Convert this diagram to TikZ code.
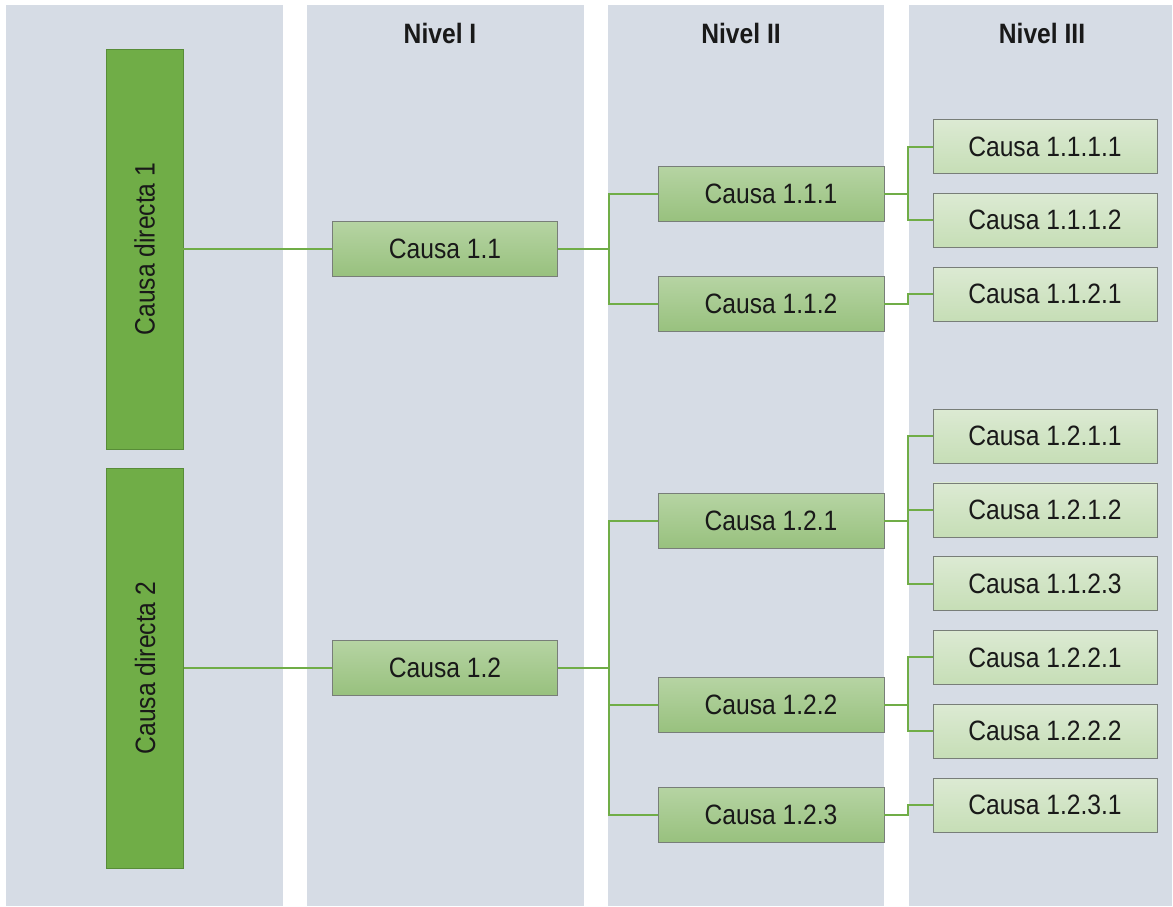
\documentclass[tikz,border=0pt]{standalone}
\usepackage{fontspec}
\setmainfont{Liberation Sans}[FakeStretch=0.88]
\usetikzlibrary{positioning}
\definecolor{panelgray}{RGB}{214,220,229}
\definecolor{directgreen}{RGB}{112,173,71}
\definecolor{directedge}{RGB}{88,140,56}
\definecolor{midtop}{RGB}{182,212,163}
\definecolor{midbot}{RGB}{152,193,126}
\definecolor{lighttop}{RGB}{220,234,211}
\definecolor{lightbot}{RGB}{198,222,182}
\definecolor{boxgray}{RGB}{120,126,120}
\definecolor{linkgreen}{RGB}{112,173,71}
\definecolor{inkgray}{RGB}{25,25,25}

\begin{document}
\begin{tikzpicture}[x=1pt, y=-1pt,
    direct/.style={rectangle, draw=directedge, fill=directgreen, rotate=90, minimum width=400pt, minimum height=77pt, text=inkgray, font=\fontsize{28}{32}\selectfont},
    cause/.style={rectangle, draw=boxgray, top color=midtop, bottom color=midbot, minimum width=225pt, minimum height=55pt, text=inkgray, font=\fontsize{28}{32}\selectfont},
    subcause/.style={rectangle, draw=boxgray, top color=lighttop, bottom color=lightbot, minimum width=224pt, minimum height=54pt, text=inkgray, font=\fontsize{28}{32}\selectfont},
    level/.style={text=inkgray, font=\fontsize{28}{32}\selectfont\bfseries},
    link/.style={draw=linkgreen, line width=2pt}
]
\useasboundingbox (0,0) rectangle (1173,907);

% Columns
\fill[panelgray] (6,5) rectangle (283,906);
\fill[panelgray] (307,5) rectangle (584,906);
\fill[panelgray] (608,5) rectangle (884,906);
\fill[panelgray] (909,5) rectangle (1172,906);

\node[level] (lvl1) at (440,33) {Nivel I};
\node[level] (lvl2) at (741,33) {Nivel II};
\node[level] (lvl3) at (1042,33) {Nivel III};

% Direct causes
\node[direct] (dc1) at (144.5,249) {Causa directa 1};
\node[direct] (dc2) at (145,668) {Causa directa 2};

% Level I
\node[cause] (c1) at (445,248.5) {Causa 1.1};
\node[cause] (c2) at (445,667.5) {Causa 1.2};

% Level II
\node[cause, minimum width=226pt] (c11) at (771,193.5) {Causa 1.1.1};
\node[cause, minimum width=226pt] (c12) at (771,304) {Causa 1.1.2};
\node[cause, minimum width=226pt] (c21) at (771,520.5) {Causa 1.2.1};
\node[cause, minimum width=226pt] (c22) at (771,705) {Causa 1.2.2};
\node[cause, minimum width=226pt] (c23) at (771,814.5) {Causa 1.2.3};

% Level III
\node[subcause] (c111) at (1045,146.5) {Causa 1.1.1.1};
\node[subcause, below=19.4pt of c111] (c112) {Causa 1.1.1.2};
\node[subcause, below=19.4pt of c112] (c121) {Causa 1.1.2.1};
\node[subcause] (c211) at (1045,436) {Causa 1.2.1.1};
\node[subcause, below=19.4pt of c211] (c212) {Causa 1.2.1.2};
\node[subcause, below=19.4pt of c212] (c213) {Causa 1.1.2.3};
\node[subcause, below=19.4pt of c213] (c221) {Causa 1.2.2.1};
\node[subcause, below=19.4pt of c221] (c222) {Causa 1.2.2.2};
\node[subcause, below=19.4pt of c222] (c231) {Causa 1.2.3.1};

% Connections
\draw[link] (c1.west) -- (c1.west -| dc1.south);
\draw[link] (c2.west) -- (c2.west -| dc2.south);
\draw[link] (c1.east) -- ++(51,0) |- (c11.west);
\draw[link] (c1.east) -- ++(51,0) |- (c12.west);
\draw[link] (c2.east) -- ++(51,0) |- (c21.west);
\draw[link] (c2.east) -- ++(51,0) |- (c22.west);
\draw[link] (c2.east) -- ++(51,0) |- (c23.west);
\draw[link] (c11.east) -- ++(24,0) |- (c111.west);
\draw[link] (c11.east) -- ++(24,0) |- (c112.west);
\draw[link] (c12.east) -- ++(24,0) |- (c121.west);
\draw[link] (c21.east) -- ++(24,0) |- (c211.west);
\draw[link] (c21.east) -- ++(24,0) |- (c212.west);
\draw[link] (c21.east) -- ++(24,0) |- (c213.west);
\draw[link] (c22.east) -- ++(24,0) |- (c221.west);
\draw[link] (c22.east) -- ++(24,0) |- (c222.west);
\draw[link] (c23.east) -- ++(24,0) |- (c231.west);

\end{tikzpicture}
\end{document}
